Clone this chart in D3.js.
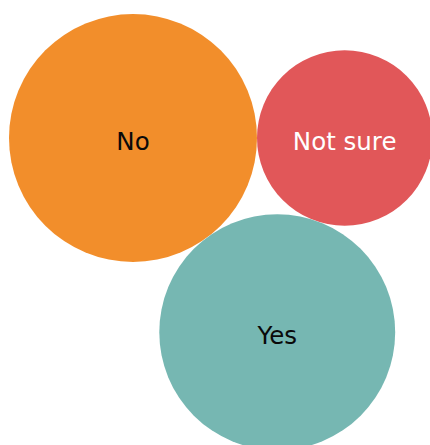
<!DOCTYPE html>
<html>
<head>
<meta charset="utf-8">
<script src="https://cdn.jsdelivr.net/npm/d3@7"></script>
<style>
  html, body { margin: 0; padding: 0; background: #ffffff; overflow: hidden; }
  svg { display: block; }
</style>
</head>
<body>
<svg id="chart" width="430" height="445"></svg>
<script>
// Data
const categories = ["No", "Not sure", "Yes"];
const values = [42, 21, 38];
const colors = ["#F28E2B", "#E15759", "#76B7B2"];
const labelColors = ["#0a0a0a", "#ffffff", "#0a0a0a"];

const width = 430, height = 445;
const maxR = 124;
const anchor = { x: 133, y: 138 }; // where the largest bubble is centred

const r = d3.scaleSqrt().domain([0, d3.max(values)]).range([0, maxR]);

const nodes = categories.map((c, i) => ({ name: c, value: values[i], r: r(values[i]), i }));
d3.packSiblings(nodes);

// orient so that the third bubble sits below the first two
if (nodes[2].y < 0) nodes.forEach(n => n.y = -n.y);

const tx = anchor.x - nodes[0].x, ty = anchor.y - nodes[0].y;

const svg = d3.select("#chart");
const g = svg.append("g").attr("transform", `translate(${tx},${ty})`);

const node = g.selectAll("g.bubble").data(nodes).join("g")
  .attr("class", "bubble")
  .attr("transform", d => `translate(${d.x},${d.y})`);

node.append("circle")
  .attr("r", d => d.r)
  .attr("fill", d => colors[d.i]);

node.append("text")
  .attr("text-anchor", "middle")
  .attr("y", 11.5)
  .attr("font-family", "'DejaVu Sans', sans-serif")
  .attr("font-size", 24.5)
  .attr("fill", d => labelColors[d.i])
  .text(d => d.name);
</script>
</body>
</html>
